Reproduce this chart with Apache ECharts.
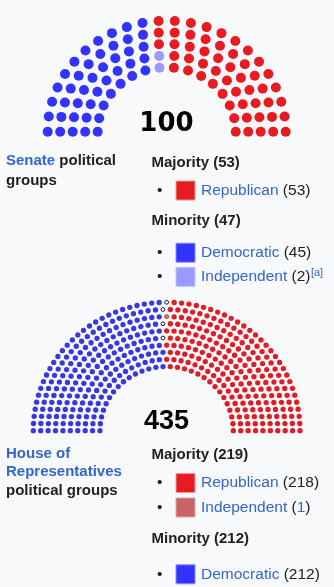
<!DOCTYPE html>
<html>
<head>
<meta charset="utf-8">
<script src="https://cdn.jsdelivr.net/npm/echarts@6/dist/echarts.min.js"></script>
<style>
  html, body { margin: 0; padding: 0; background: #f8f9fa; }
  #main { width: 334px; height: 587px; }
</style>
</head>
<body>
<div id="main"></div>
<script>
"use strict";
// seats per party, listed left to right as they sit in the arch
const senateParties = ['Democratic', 'Independent', 'Republican'];
const senateSeats = [45, 2, 53];
const houseParties = ['Democratic', 'Vacant', 'Independent', 'Republican'];
const houseSeats = [212, 4, 1, 218];

// legend groups (party names, counts come from the seat arrays)
const senateMajority = ['Republican'];
const senateMinority = ['Democratic', 'Independent'];
const houseMajority = ['Republican', 'Independent'];
const houseMinority = ['Democratic'];

const senateColor = { Democratic: '#3333ff', Independent: '#9999ff', Republican: '#e81b23' };
const senateEdge = { Democratic: '#8c8cff', Independent: '#c4c4ff', Republican: '#f09a9e' };
const houseDot = { Democratic: '#3838e0', Vacant: '#ffffff', Independent: '#b87464', Republican: '#e01c24' };
const houseColor = { Democratic: '#3333ff', Independent: '#c86464', Republican: '#e81b23' };
const houseEdge = { Democratic: '#8c8cff', Independent: '#e0a8a8', Republican: '#f09a9e' };

const FONT = '"Liberation Sans", Arial, sans-serif';
const LINK = '#3366cc';
const INK = '#202122';

// seat positions for a half circle: rows from inner radius to 1,
// seats per row grow with the radius, then seats are handed out by angle
function archSeats(total, rows, inner, bias) {
    let radii = [];
    for (let k = 0; k < rows; k++) radii.push(inner + (1 - inner) * k / (rows - 1));
    let w = radii.map(r => r + bias);
    let wsum = w.reduce((a, b) => a + b, 0);
    let raw = w.map(v => total * v / wsum);
    let counts = raw.map(Math.floor);
    let left = total - counts.reduce((a, b) => a + b, 0);
    let order = raw.map((v, i) => [v - counts[i], i]).sort((a, b) => b[0] - a[0]);
    for (let i = 0; i < left; i++) counts[order[i][1]]++;
    let seats = [];
    radii.forEach((r, k) => {
        let n = counts[k];
        for (let j = 0; j < n; j++) {
            let a = Math.PI * j / (n - 1);
            seats.push({ a: a, r: r });
        }
    });
    seats.sort((p, q) => (q.a - p.a) || (q.r - p.r));
    return seats;
}

function seatSeries(parties, counts, layout, axis, colors, size) {
    let out = [];
    let pos = 0;
    parties.forEach((p, i) => {
        let pts = [];
        for (let j = 0; j < counts[i]; j++) {
            let s = layout[pos++];
            pts.push([s.r * Math.cos(s.a), s.r * Math.sin(s.a)]);
        }
        let vacant = p === 'Vacant';
        out.push({
            type: 'scatter',
            name: p,
            xAxisIndex: axis,
            yAxisIndex: axis,
            data: pts,
            symbol: 'circle',
            symbolSize: vacant ? size - 1.5 : size,
            silent: true,
            itemStyle: {
                color: colors[p],
                opacity: 1,
                borderColor: vacant ? '#000' : null,
                borderWidth: vacant ? 0.9 : 0
            }
        });
    });
    return out;
}

const sum = a => a.reduce((x, y) => x + y, 0);
const seatsOf = (parties, seats, name) => seats[parties.indexOf(name)];

let senateLayout = archSeats(sum(senateSeats), 5, 0.58, 0.26);
let houseLayout = archSeats(sum(houseSeats), 10, 0.5, 0.03);

let graphics = [];
let measure = document.createElement('canvas').getContext('2d');

function addText(x, y, text, rich) {
    graphics.push({
        type: 'text', x: x, y: y, silent: true,
        style: { text: text, rich: rich, font: '15px ' + FONT, fill: INK, verticalAlign: 'middle' }
    });
}

const rich = {
    lk: { fontFamily: FONT, fontSize: 15, fontWeight: 'bold', fill: LINK },
    bk: { fontFamily: FONT, fontSize: 15, fontWeight: 'bold', fill: INK },
    l: { fontFamily: FONT, fontSize: 15.5, fill: LINK },
    n: { fontFamily: FONT, fontSize: 15.5, fill: INK }
};

function header(y, label, count) {
    addText(151.5, y, '{bk|' + label + ' (' + count + ')}', rich);
}

// one bullet row of the legend; returns the x where its text ends
function item(y, name, count, fill, edge, countLink) {
    addText(157, y, '{n|\u2022}', rich);
    graphics.push({
        type: 'rect', silent: true,
        shape: { x: 176, y: y - 9.5, width: 19, height: 19 },
        style: { fill: fill, stroke: edge, lineWidth: 1 }
    });
    let cnt = countLink ? '{n|(}{l|' + count + '}{n|)}' : '{n|(' + count + ')}';
    addText(201, y, '{l|' + name + '}{n| }' + cnt, rich);
    measure.font = '15.5px ' + FONT;
    return 201 + measure.measureText(name + ' (' + count + ')').width;
}

// chamber totals
graphics.push({
    type: 'text', x: 166.5, y: 124, silent: true,
    style: { text: String(sum(senateSeats)), font: 'bold 26px "DejaVu Sans", sans-serif', fill: '#000', align: 'center', verticalAlign: 'middle' }
});
graphics.push({
    type: 'text', x: 166.5, y: 421.5, silent: true,
    style: { text: String(sum(houseSeats)), font: 'bold 27px ' + FONT, fill: '#000', align: 'center', verticalAlign: 'middle' }
});

// Senate legend
addText(6, 161, '{lk|Senate}{bk| political}', rich);
addText(6, 180.5, '{bk|groups}', rich);
header(162.5, 'Majority', sum(senateMajority.map(p => seatsOf(senateParties, senateSeats, p))));
item(190.5, 'Republican', seatsOf(senateParties, senateSeats, 'Republican'), senateColor.Republican, senateEdge.Republican);
header(221, 'Minority', sum(senateMinority.map(p => seatsOf(senateParties, senateSeats, p))));
item(252.7, 'Democratic', seatsOf(senateParties, senateSeats, 'Democratic'), senateColor.Democratic, senateEdge.Democratic);
let endX = item(276.8, 'Independent', seatsOf(senateParties, senateSeats, 'Independent'), senateColor.Independent, senateEdge.Independent);
graphics.push({
    type: 'text', x: endX + 0.5, y: 272.5, silent: true,
    style: { text: '[a]', font: '11px ' + FONT, fill: LINK, verticalAlign: 'middle' }
});

// House legend
addText(6, 453.5, '{lk|House of}', rich);
addText(6, 472, '{lk|Representatives}', rich);
addText(6, 491, '{bk|political groups}', rich);
header(455.3, 'Majority', sum(houseMajority.map(p => seatsOf(houseParties, houseSeats, p))));
item(483, 'Republican', seatsOf(houseParties, houseSeats, 'Republican'), houseColor.Republican, houseEdge.Republican);
item(507.5, 'Independent', seatsOf(houseParties, houseSeats, 'Independent'), houseColor.Independent, houseEdge.Independent, true);
header(538.5, 'Minority', sum(houseMinority.map(p => seatsOf(houseParties, houseSeats, p))));
item(574.3, 'Democratic', seatsOf(houseParties, houseSeats, 'Democratic'), houseColor.Democratic, houseEdge.Democratic);

let myChart = echarts.init(document.getElementById('main'));
let option = {
    backgroundColor: '#f8f9fa',
    animation: false,
    grid: [
        { left: 47.7, width: 238, top: 20.7, height: 111 },
        { left: 33.3, width: 266.7, top: 302.3, height: 128.4 }
    ],
    xAxis: [
        { gridIndex: 0, type: 'value', min: -1, max: 1, show: false },
        { gridIndex: 1, type: 'value', min: -1, max: 1, show: false }
    ],
    yAxis: [
        { gridIndex: 0, type: 'value', min: 0, max: 1, show: false },
        { gridIndex: 1, type: 'value', min: 0, max: 1, show: false }
    ],
    series: seatSeries(senateParties, senateSeats, senateLayout, 0, senateColor, 10)
        .concat(seatSeries(houseParties, houseSeats, houseLayout, 1, houseDot, 5.3)),
    graphic: graphics
};
myChart.setOption(option);
</script>
</body>
</html>
